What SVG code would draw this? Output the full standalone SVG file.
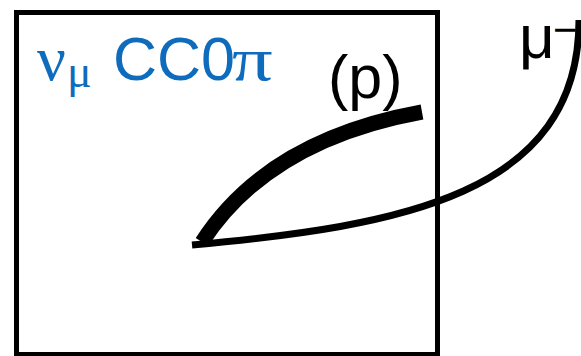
<svg xmlns="http://www.w3.org/2000/svg" width="581" height="356" viewBox="0 0 581 356">
<style>
.blue{fill:#0F6CBD}
.sans{font-family:"Liberation Sans",Arial,sans-serif}
.serif{font-family:"Liberation Serif","Times New Roman",serif}
.track{fill:none;stroke:#000}
</style>
<rect width="581" height="356" fill="#fff"/>
<g id="detector">
<rect x="16.5" y="12.5" width="421" height="342" fill="none" stroke="#000" stroke-width="5"/>
</g>
<g id="title">
<text class="serif blue" x="37" y="80" font-size="64">ν</text>
<text class="serif blue" x="67" y="87" font-size="46">μ</text>
<text class="sans blue" x="113" y="80" font-size="61">CC0</text>
<text class="serif blue" transform="translate(232,80) scale(1.3,1)" font-size="62">π</text>
</g>
<g id="connectors">
<path id="proton" class="track" d="M202,242 Q268,140 422,112" stroke-width="15"/>
<path id="muon" class="track" d="M192,245 C400,226 579,195 579,20" stroke-width="7"/>
</g>
<g id="labels">
<text class="sans" x="328" y="98" font-size="61">(p)</text>
<text class="sans" x="519" y="58" font-size="62">μ</text>
<text class="sans" x="553" y="44" font-size="42">−</text>
</g>
</svg>
